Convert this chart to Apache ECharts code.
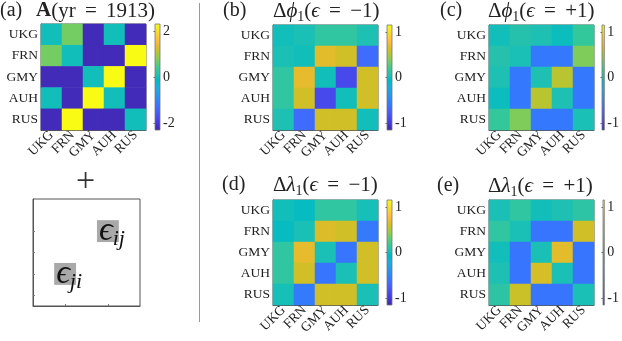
<!DOCTYPE html>
<html>
<head>
<meta charset="utf-8">
<script src="https://cdn.jsdelivr.net/npm/echarts@6/dist/echarts.min.js"></script>
<style>
html, body { margin: 0; padding: 0; background: #fff; }
#chart { width: 622px; height: 341px; }
</style>
</head>
<body>
<div id="chart"></div>
<script>
const countries = ['UKG', 'FRN', 'GMY', 'AUH', 'RUS'];

// signed adjacency matrix, 1913
const adj1913 = [
  [0, 0.7, -2.2, 0, -2.2],
  [0.7, 0, -2.2, -2.2, 2.3],
  [-2.2, -2.2, 0, 2.3, -2.2],
  [0, -2.2, 2.3, 0, -2.2],
  [-2.2, 2.3, -2.2, -2.2, 0]
];

// change of phi_1, eps = -1
const dPhiNeg = [
  [0, 0.02, 0.12, 0.12, 0.03],
  [0.02, 0, 0.66, 0.6, -0.66],
  [0.12, 0.68, 0, -0.88, 0.6],
  [0.12, 0.6, -0.88, 0, 0.6],
  [0.03, -0.66, 0.6, 0.6, 0]
];

// change of phi_1, eps = +1
const dPhiPos = [
  [0, 0.06, 0.03, -0.02, 0.14],
  [0.06, 0.02, -0.58, -0.58, 0.38],
  [0.03, -0.58, 0.03, 0.53, -0.58],
  [-0.02, -0.58, 0.53, 0.03, -0.58],
  [0.14, 0.38, -0.58, -0.58, 0.02]
];

// change of lambda_1, eps = -1
const dLamNeg = [
  [0, -0.04, 0.12, 0.12, 0.01],
  [-0.04, 0.02, 0.64, 0.6, -0.57],
  [0.12, 0.68, 0.02, -0.6, 0.6],
  [0.12, 0.6, -0.6, 0.02, 0.6],
  [0.01, -0.57, 0.6, 0.6, 0.02]
];

// change of lambda_1, eps = +1
const dLamPos = [
  [0.02, 0.12, 0, 0.03, 0.1],
  [0.12, 0.02, -0.6, -0.6, 0.6],
  [0, -0.6, 0.02, 0.66, -0.6],
  [0.03, -0.6, 0.62, 0.02, -0.6],
  [0.1, 0.58, -0.6, -0.6, 0.02]
];

// perturbed cells (col, row) in the sketch
const epsCells = [[3, 1, 'ij'], [1, 3, 'ji']];

// matlab parula(64)
const parulaRGB = [
  [0.2422,0.1504,0.6603],[0.2504,0.1650,0.7076],[0.2578,0.1818,0.7511],[0.2647,0.1978,0.7952],
  [0.2706,0.2147,0.8364],[0.2751,0.2342,0.8710],[0.2783,0.2559,0.8991],[0.2803,0.2782,0.9221],
  [0.2813,0.3006,0.9414],[0.2810,0.3228,0.9579],[0.2795,0.3447,0.9717],[0.2760,0.3667,0.9829],
  [0.2699,0.3892,0.9906],[0.2602,0.4123,0.9952],[0.2440,0.4358,0.9988],[0.2206,0.4603,0.9973],
  [0.1963,0.4847,0.9892],[0.1834,0.5074,0.9798],[0.1786,0.5289,0.9682],[0.1764,0.5499,0.9520],
  [0.1687,0.5703,0.9359],[0.1540,0.5902,0.9218],[0.1460,0.6091,0.9079],[0.1380,0.6276,0.8973],
  [0.1248,0.6459,0.8883],[0.1113,0.6635,0.8763],[0.0952,0.6798,0.8598],[0.0689,0.6948,0.8394],
  [0.0297,0.7082,0.8163],[0.0036,0.7203,0.7917],[0.0067,0.7312,0.7660],[0.0433,0.7411,0.7394],
  [0.0964,0.7500,0.7120],[0.1408,0.7584,0.6842],[0.1717,0.7670,0.6554],[0.1938,0.7758,0.6251],
  [0.2161,0.7843,0.5923],[0.2470,0.7918,0.5567],[0.2906,0.7973,0.5188],[0.3406,0.8008,0.4789],
  [0.3909,0.8029,0.4354],[0.4456,0.8024,0.3909],[0.5044,0.7993,0.3480],[0.5616,0.7942,0.3045],
  [0.6174,0.7876,0.2612],[0.6720,0.7793,0.2227],[0.7242,0.7698,0.1910],[0.7738,0.7598,0.1646],
  [0.8203,0.7498,0.1535],[0.8634,0.7406,0.1596],[0.9035,0.7330,0.1774],[0.9393,0.7288,0.2100],
  [0.9728,0.7298,0.2394],[0.9956,0.7434,0.2371],[0.9970,0.7659,0.2199],[0.9952,0.7893,0.2028],
  [0.9892,0.8136,0.1885],[0.9786,0.8386,0.1766],[0.9676,0.8639,0.1643],[0.9610,0.8890,0.1537],
  [0.9597,0.9135,0.1423],[0.9628,0.9373,0.1265],[0.9691,0.9606,0.1064],[0.9769,0.9839,0.0805]
];
const parula = parulaRGB.map(c => 'rgb(' + c.map(v => Math.round(v * 255)).join(',') + ')');

const serif = 'Liberation Serif';
const ink = '#222';
const frame = '#555';

const panels = [
  { mat: adj1913, lim: 2.3, ticks: [-2, 0, 2], grid: [41, 24, 105, 106], bar: [155, 24, 5, 106] },
  { mat: dPhiNeg, lim: 1.15, ticks: [-1, 0, 1], grid: [273, 25, 105, 105], bar: [387, 25, 5, 105] },
  { mat: dPhiPos, lim: 1.15, ticks: [-1, 0, 1], grid: [489, 25, 105, 105], bar: [602, 25, 5, 105] },
  { mat: dLamNeg, lim: 1.15, ticks: [-1, 0, 1], grid: [273, 200, 105, 105], bar: [387, 200, 5, 105] },
  { mat: dLamPos, lim: 1.15, ticks: [-1, 0, 1], grid: [489, 200, 105, 105], bar: [603, 200, 5, 105] }
];

function toCells(m) {
  const out = [];
  m.forEach((row, r) => row.forEach((v, c) => out.push([c, r, v])));
  return out;
}

// one gradient object per bar, zrender caches the canvas gradient on it
function barGradient() {
  return {
    type: 'linear', x: 0, y: 1, x2: 0, y2: 0,
    colorStops: parula.map((c, i) => ({ offset: i / (parula.length - 1), color: c }))
  };
}

const grid = [], xAxis = [], yAxis = [], series = [], visualMap = [];

panels.forEach((p, i) => {
  const g = grid.length;
  grid.push({ left: p.grid[0], top: p.grid[1], width: p.grid[2], height: p.grid[3],
    show: true, borderColor: frame, borderWidth: 1, containLabel: false });
  xAxis.push({
    type: 'category', gridIndex: g, data: countries,
    axisLine: { show: true, lineStyle: { color: frame } },
    axisTick: { show: true, inside: true, alignWithLabel: true, length: 2, lineStyle: { color: frame } },
    axisLabel: { rotate: 45, interval: 0, margin: 3, fontFamily: serif, fontSize: 13.5, color: ink },
    splitLine: { show: false }, splitArea: { show: false }
  });
  yAxis.push({
    type: 'category', gridIndex: g, data: countries, inverse: true,
    axisLine: { show: true, lineStyle: { color: frame } },
    axisTick: { show: true, inside: true, alignWithLabel: true, length: 2, lineStyle: { color: frame } },
    axisLabel: { interval: 0, margin: 3, fontFamily: serif, fontSize: 13.5, color: ink },
    splitLine: { show: false }, splitArea: { show: false }
  });
  series.push({
    type: 'heatmap', xAxisIndex: g, yAxisIndex: g, data: toCells(p.mat),
    emphasis: { disabled: true }, itemStyle: { borderWidth: 0 }
  });
  visualMap.push({
    type: 'continuous', show: false, seriesIndex: i, min: -p.lim, max: p.lim,
    inRange: { color: parula }
  });

  // colour bar
  const b = grid.length;
  grid.push({ left: p.bar[0], top: p.bar[1], width: p.bar[2], height: p.bar[3],
    show: true, backgroundColor: barGradient(), borderColor: '#777', borderWidth: 0.8 });
  xAxis.push({ type: 'value', gridIndex: b, show: false });
  yAxis.push({
    type: 'value', gridIndex: b, position: 'right', min: -p.lim, max: p.lim,
    axisLine: { show: false }, splitLine: { show: false },
    axisTick: { show: true, inside: true, length: 1.5, customValues: p.ticks, lineStyle: { color: '#666' } },
    axisLabel: { customValues: p.ticks, margin: 3, fontFamily: serif, fontSize: 14, color: ink }
  });
});

// sketch of the perturbation
const e = grid.length;
grid.push({ left: 33, top: 199, width: 107, height: 107, show: true, borderColor: frame, borderWidth: 1 });
xAxis.push({
  type: 'category', gridIndex: e, data: [0, 1, 2, 3, 4],
  axisLine: { show: true, lineStyle: { color: frame } },
  axisTick: { show: true, inside: true, alignWithLabel: true, length: 2,
    interval: (idx) => idx === 1 || idx === 3, lineStyle: { color: '#777' } },
  axisLabel: { show: false }, splitLine: { show: false }
});
yAxis.push({
  type: 'category', gridIndex: e, data: [0, 1, 2, 3, 4], inverse: true,
  axisLine: { show: true, lineStyle: { color: frame } },
  axisTick: { show: true, inside: true, alignWithLabel: true, length: 2,
    interval: (idx) => idx >= 1, lineStyle: { color: '#777' } },
  axisLabel: { show: false }, splitLine: { show: false }
});
series.push({
  type: 'heatmap', xAxisIndex: e, yAxisIndex: e,
  data: epsCells.map(c => ({ value: [c[0], c[1], 1], name: c[2] })),
  emphasis: { disabled: true },
  label: {
    show: true, position: 'insideLeft', distance: 2,
    formatter: (p) => '{e|ϵ}{s|' + p.name + '}',
    rich: {
      e: { fontFamily: serif, fontStyle: 'italic', fontSize: 34, lineHeight: 38, color: '#111' },
      s: { fontFamily: serif, fontStyle: 'italic', fontSize: 22, lineHeight: 22, verticalAlign: 'bottom', color: '#111' }
    }
  }
});
visualMap.push({ type: 'continuous', show: false, seriesIndex: 5, min: 0, max: 1,
  inRange: { color: ['#a9a9a9', '#a9a9a9'] } });

const richTitle = {
  b: { fontFamily: serif, fontWeight: 'bold', fontSize: 21, lineHeight: 26, color: ink },
  r: { fontFamily: serif, fontSize: 21, lineHeight: 26, color: ink },
  i: { fontFamily: serif, fontStyle: 'italic', fontSize: 21, lineHeight: 26, color: ink },
  q: { fontFamily: serif, fontSize: 21, lineHeight: 26, color: ink, padding: [0, 4, 0, 4] },
  s: { fontFamily: serif, fontSize: 14, lineHeight: 14, verticalAlign: 'bottom', color: ink }
};
function mkTitle(text, left, top) {
  return { text, left, top, padding: 0, textStyle: { fontFamily: serif, fontSize: 20, fontWeight: 'normal', color: ink, rich: richTitle } };
}

const title = [
  mkTitle('(a)', 0, 1),
  mkTitle('{b|A}{r|(yr}{q| = }{r|1913)}', 36, -2),
  mkTitle('(b)', 223, 1),
  mkTitle('{r|Δ}{i|ϕ}{s|1}{r|(}{i|ϵ}{q| = }{r|−1)}', 273, -2),
  mkTitle('(c)', 440, 1),
  mkTitle('{r|Δ}{i|ϕ}{s|1}{r|(}{i|ϵ}{q| = }{r|+1)}', 488, -2),
  mkTitle('(d)', 222, 175),
  mkTitle('{r|Δ}{i|λ}{s|1}{r|(}{i|ϵ}{q| = }{r|−1)}', 273, 172),
  mkTitle('(e)', 437, 176),
  mkTitle('{r|Δ}{i|λ}{s|1}{r|(}{i|ϵ}{q| = }{r|+1)}', 488, 173)
];

const chart = echarts.init(document.getElementById('chart'), null, { renderer: 'canvas' });
chart.setOption({
  animation: false,
  backgroundColor: '#fff',
  title,
  grid, xAxis, yAxis, series, visualMap,
  graphic: [
    { type: 'line', shape: { x1: 199.5, y1: 3, x2: 199.5, y2: 322 }, style: { stroke: '#999', lineWidth: 1 } },
    { type: 'text', left: 76, top: 165, style: { text: '+', fontFamily: serif, fontSize: 34, fill: '#333' } }
  ]
});
</script>
</body>
</html>
